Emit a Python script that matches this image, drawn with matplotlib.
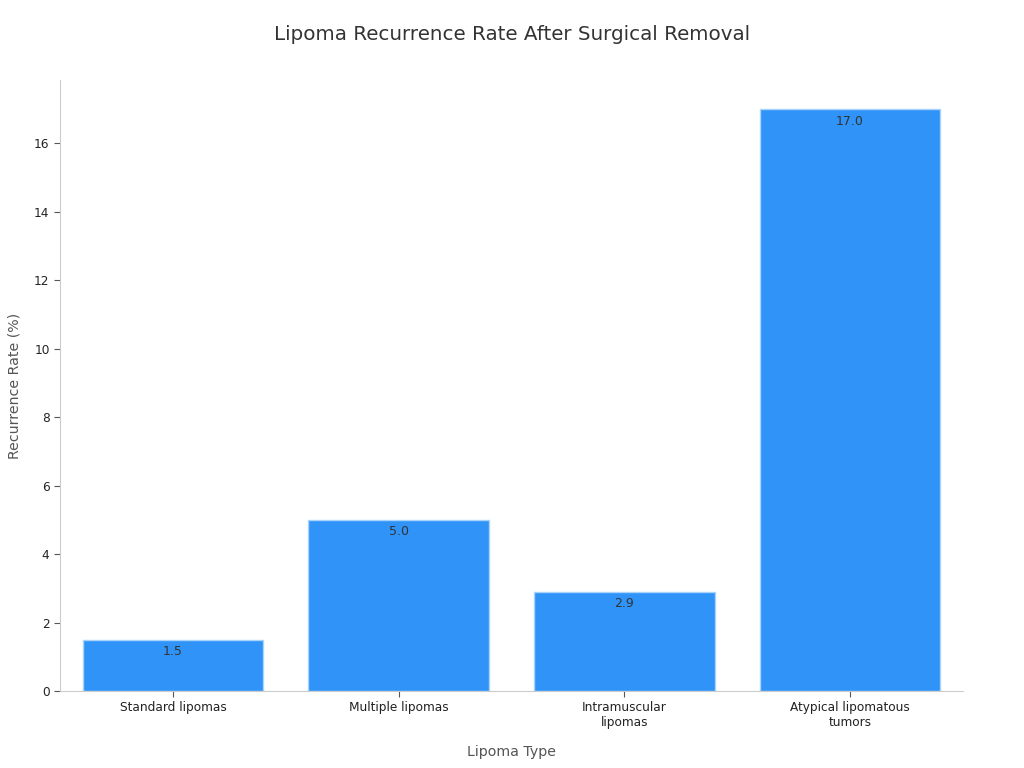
import matplotlib.pyplot as plt

# Chart data
categories = ['Standard lipomas', 'Multiple lipomas', 'Intramuscular\nlipomas', 'Atypical lipomatous\ntumors']
rates = [1.5, 5.0, 2.9, 17.0]

fig = plt.figure(figsize=(10.24, 7.68), dpi=100)
ax = fig.add_axes([0.0586, 0.1003, 0.8818, 0.7955])

x = range(len(categories))
bars = ax.bar(x, rates, width=0.8, color='#2F93F8', edgecolor='#A9D3FB', linewidth=1)

# Value labels just inside the top of each bar
for rect, val in zip(bars, rates):
    ax.annotate(f'{val:.1f}', xy=(rect.get_x() + rect.get_width() / 2, val),
                xytext=(0, -4), textcoords='offset points',
                ha='center', va='top', fontsize=9, color='#333333')

ax.set_xlim(-0.5, 3.5)
ax.set_ylim(0, 17.85)
ax.set_xticks(list(x))
ax.set_xticklabels(categories, fontsize=8.7, color='#222222')
ax.set_yticks(range(0, 17, 2))
ax.tick_params(axis='y', labelsize=8.7, colors='#222222')
ax.tick_params(axis='both', color='#555555', length=4)

for side in ['top', 'right']:
    ax.spines[side].set_visible(False)
for side in ['left', 'bottom']:
    ax.spines[side].set_color('#CCCCCC')

ax.set_xlabel('Lipoma Type', fontsize=10.2, color='#555555', labelpad=11)
ax.set_ylabel('Recurrence Rate (%)', fontsize=10.2, color='#555555', labelpad=9)
fig.suptitle('Lipoma Recurrence Rate After Surgical Removal', fontsize=14.3, color='#333333', y=0.968)

plt.savefig('out.png')
